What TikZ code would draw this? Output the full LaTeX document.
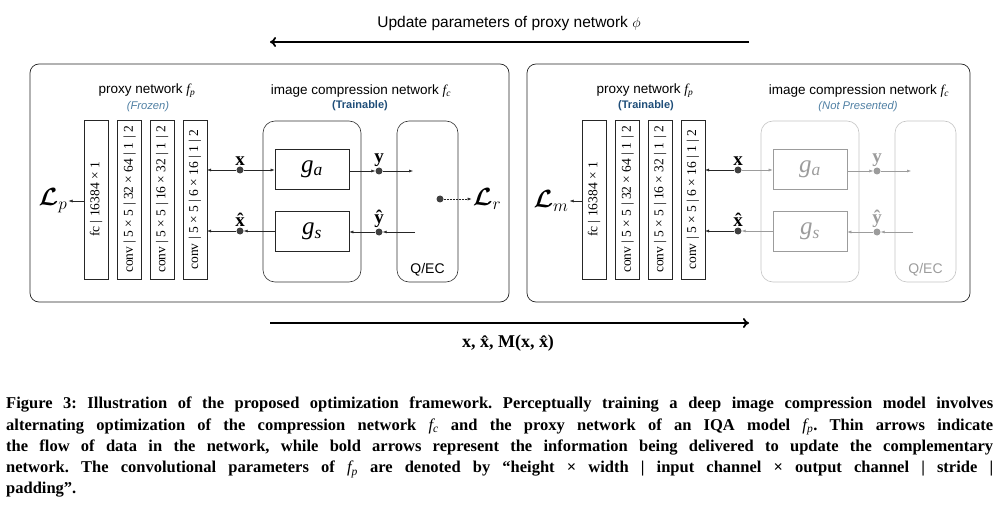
\documentclass[tikz,border=0pt]{standalone}
\usepackage{amsmath}
\usepackage{amssymb}
\usepackage{bm}
\usepackage{fontspec}
\setmainfont{Liberation Serif}
\setsansfont{Liberation Sans}
\usetikzlibrary{arrows.meta,positioning}
\definecolor{frozen}{HTML}{4F7FA3}
\definecolor{train}{HTML}{1F4E79}
\definecolor{faded}{HTML}{9C9C9C}
\definecolor{fadedline}{HTML}{C4C4C4}
\tikzstyle{panel} = [draw=black!85, rounded corners=9pt, line width=0.7pt, inner sep=0pt]
\tikzstyle{bar} = [draw=black!85, line width=0.6pt, minimum width=24pt, minimum height=159pt,
    inner sep=0pt, font=\fontsize{13.5}{14}\selectfont]
\tikzstyle{group} = [draw=black!80, rounded corners=12pt, line width=0.6pt, minimum height=161pt, inner sep=0pt]
\tikzstyle{gbox} = [draw=black!85, line width=0.7pt, minimum width=74pt, minimum height=40pt,
    font=\fontsize{25}{26}\selectfont]
\tikzstyle{dot} = [circle, fill=black!75, inner sep=0pt, minimum size=7pt]
\tikzstyle{flow} = [-{Latex[length=4pt,width=3pt]}, line width=0.5pt, black!85]
\tikzstyle{update} = [-{To[length=6pt,width=10pt]}, line width=1.8pt]
\tikzstyle{title} = [font=\sffamily\fontsize{13.5}{15}\selectfont]
\tikzstyle{vec} = [font=\bfseries\fontsize{19}{20}\selectfont, inner sep=1pt]
\tikzstyle{loss} = [font=\fontsize{23}{24}\selectfont, inner sep=1pt]

\begin{document}
\begin{tikzpicture}[x=1pt, y=-1pt]
  \useasboundingbox (0,0) rectangle (1002,508);
  % bold arrows between the two steps
  \node [font=\sffamily\fontsize{15.5}{17}\selectfont] (upd) at (509,23) {Update parameters of proxy network $\phi$};
  \coordinate (ua) at (749,42);
  \coordinate (ub) at (270,42);
  \draw [update] (ua) -- (ub);
  \coordinate (da) at (270,323);
  \coordinate (db) at (749,323);
  \draw [update] (da) -- (db);
  \node [font=\bfseries\fontsize{18}{19}\selectfont] (dat) at (508,343) {x, \^x, M(x, \^x)};

  % step 1: compression network trainable
  \node [panel, minimum width=479pt, minimum height=238pt] (pn1) at (269.5,183) {};
  \node [title] (t11) at (147,91) {proxy network $\mathit{f_p}$};
  \node [font=\sffamily\itshape\fontsize{11.2}{12}\selectfont, text=frozen] (s11) at (148,107) {(Frozen)};
  \node [title] (t12) at (361,91) {image compression network $\mathit{f_c}$};
  \node [font=\sffamily\bfseries\fontsize{11}{12}\selectfont, text=train] (s12) at (360,106) {(Trainable)};
  \node [bar] (b11) at (96,199.5) {\rotatebox{90}{fc | 16384 × 1}};
  \node [bar, right=9pt of b11] (b12) {\rotatebox{90}{conv | 5 × 5 | 32 × 64 | 1 | 2}};
  \node [bar, right=8pt of b12] (b13) {\rotatebox{90}{conv | 5 × 5 | 16 × 32 | 1 | 2}};
  \node [bar, right=8pt of b13] (b14) {\rotatebox{90}{conv | 5 × 5 | 6 × 16 | 1 | 2}};
  \node [loss] (lp1) at (53,201) {$\bm{\mathcal{L}}_p$};
  \node [group, minimum width=98pt] (gr1) at (312,201.5) {};
  \node [gbox] (ga1) at (312,169) {$\mathit{g_a}$};
  \node [gbox] (gs1) at (312,231.5) {$\mathit{g_s}$};
  \node [group, minimum width=61pt] (q1) at (427.5,201.5) {};
  \node [font=\sffamily\fontsize{14}{15}\selectfont] (qt1) at (427.5,270) {Q/EC};
  \node [dot] (x1) at (240,170) {};
  \node [dot] (xh1) at (240,231) {};
  \node [dot] (y1) at (379,171) {};
  \node [dot] (yh1) at (379,232) {};
  \node [dot] (r1) at (440,199) {};
  \node [vec, above=0pt of x1] (xl1) {x};
  \node [vec, above=0pt of xh1] (xhl1) {\^x};
  \node [vec, above=-1pt of y1] (yl1) {y};
  \node [vec, above=-1pt of yh1] (yhl1) {\^y};
  \node [loss] (lr1) at (487,199) {$\bm{\mathcal{L}}_r$};
  \coordinate (yo1) at (413,171);
  \coordinate (yi1) at (415,232);
  \draw [flow] (b11.west |- lp1) -- (lp1);
  \draw [flow] (x1) -- (x1 -| b14.east);
  \draw [flow] (x1) -- (x1 -| ga1.west);
  \draw [flow] (gs1.west |- xh1) -- (xh1);
  \draw [flow] (xh1) -- (xh1 -| b14.east);
  \draw [flow] (ga1.east |- y1) -- (y1);
  \draw [flow] (y1) -- (yo1);
  \draw [flow] (yi1) -- (yh1);
  \draw [flow] (yh1) -- (yh1 -| gs1.east);
  \draw [flow, densely dotted] (r1) -- (lr1);

  % step 2: proxy network trainable
  \node [panel, minimum width=443pt, minimum height=238pt] (pn2) at (748.5,183) {};
  \node [title] (t21) at (645,91) {proxy network $\mathit{f_p}$};
  \node [font=\sffamily\bfseries\fontsize{11}{12}\selectfont, text=train] (s21) at (646,106) {(Trainable)};
  \node [title] (t22) at (859,91) {image compression network $\mathit{f_c}$};
  \node [font=\sffamily\itshape\fontsize{11.2}{12}\selectfont, text=frozen] (s22) at (858,107) {(Not Presented)};
  \node [bar] (b21) at (594,199.5) {\rotatebox{90}{fc | 16384 × 1}};
  \node [bar, right=9pt of b21] (b22) {\rotatebox{90}{conv | 5 × 5 | 32 × 64 | 1 | 2}};
  \node [bar, right=8pt of b22] (b23) {\rotatebox{90}{conv | 5 × 5 | 16 × 32 | 1 | 2}};
  \node [bar, right=8pt of b23] (b24) {\rotatebox{90}{conv | 5 × 5 | 6 × 16 | 1 | 2}};
  \node [loss] (lm2) at (551,201) {$\bm{\mathcal{L}}_m$};
  \node [group, draw=fadedline, minimum width=98pt] (gr2) at (810,201.5) {};
  \node [gbox, draw=faded, text=faded] (ga2) at (810,169) {$\mathit{g_a}$};
  \node [gbox, draw=faded, text=faded] (gs2) at (810,231.5) {$\mathit{g_s}$};
  \node [group, draw=fadedline, minimum width=61pt] (q2) at (925.5,201.5) {};
  \node [font=\sffamily\fontsize{14}{15}\selectfont, text=faded] (qt2) at (925.5,270) {Q/EC};
  \node [dot] (x2) at (738,170) {};
  \node [dot] (xh2) at (738,231) {};
  \node [dot, fill=faded] (y2) at (877,171) {};
  \node [dot, fill=faded] (yh2) at (877,232) {};
  \node [vec, above=0pt of x2] (xl2) {x};
  \node [vec, above=0pt of xh2] (xhl2) {\^x};
  \node [vec, text=faded, above=-1pt of y2] (yl2) {y};
  \node [vec, text=faded, above=-1pt of yh2] (yhl2) {\^y};
  \coordinate (yo2) at (911,171);
  \coordinate (yi2) at (913,232);
  \draw [flow] (b21.west |- lm2) -- (lm2);
  \draw [flow] (x2) -- (x2 -| b24.east);
  \draw [flow, faded] (x2) -- (x2 -| ga2.west);
  \draw [flow, faded] (gs2.west |- xh2) -- (xh2);
  \draw [flow] (xh2) -- (xh2 -| b24.east);
  \draw [flow, faded] (ga2.east |- y2) -- (y2);
  \draw [flow, faded] (y2) -- (yo2);
  \draw [flow, faded] (yi2) -- (yh2);
  \draw [flow, faded] (yh2) -- (yh2 -| gs2.east);

  % caption
  \node [anchor=north west, inner sep=0pt, text width=987pt, align=justify,
    font=\bfseries\fontsize{16.5}{21.2}\selectfont\frenchspacing] (cap) at (6,397) {Figure 3: Illustration of the proposed optimization framework. Perceptually training a deep image compression model involves\linebreak
    alternating optimization of the compression network $\mathit{f_c}$ and the proxy network of an IQA model $\mathit{f_p}$. Thin arrows indicate\linebreak
    the flow of data in the network, while bold arrows represent the information being delivered to update the complementary\linebreak
    network. The convolutional parameters of $\mathit{f_p}$ are denoted by “height × width | input channel × output channel | stride |\linebreak
    padding”.};
\end{tikzpicture}
\end{document}
